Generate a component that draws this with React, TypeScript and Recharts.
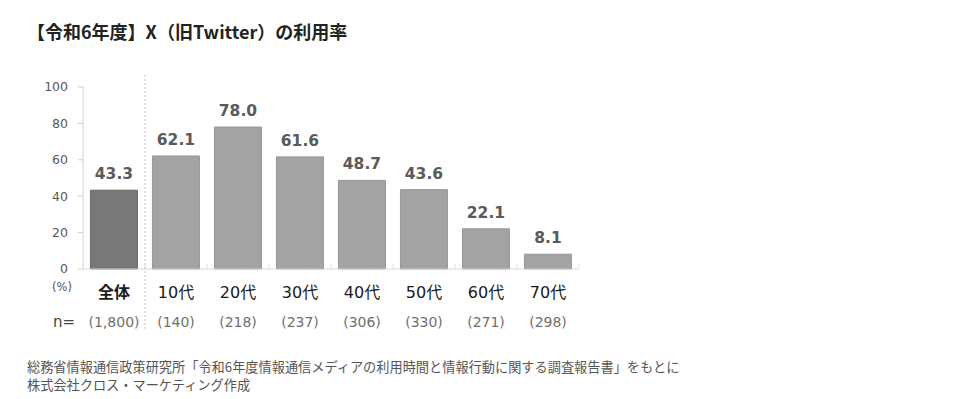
import React from 'react';
import { BarChart, Bar, XAxis, YAxis, Cell, LabelList } from 'recharts';

const categories = ['全体', '10代', '20代', '30代', '40代', '50代', '60代', '70代'];
const usageRates = [43.3, 62.1, 78.0, 61.6, 48.7, 43.6, 22.1, 8.1];
const sampleSizes = ['1,800', '140', '218', '237', '306', '330', '271', '298'];
const yTicks = [0, 20, 40, 60, 80, 100];

const data = categories.map((name, i) => ({ name, value: usageRates[i], n: sampleSizes[i] }));

const NUM_FONT = "'DejaVu Sans', 'Noto Sans CJK JP', sans-serif";
const JP_FONT = "'Noto Sans CJK JP', 'DejaVu Sans', sans-serif";

const CategoryTick = (props: any) => {
  const { x, y, payload, index } = props;
  const half = payload && typeof payload.offset === 'number' && payload.offset > 0 ? payload.offset : 31;
  const isTotal = index === 0;
  return (
    <g>
      <line x1={x + half} x2={x + half} y1={y - 5} y2={y} stroke="#e0e0e0" strokeWidth={1} />
      {isTotal && (
        <line x1={x + half} x2={x + half} y1={y - 194} y2={y + 62} stroke="#c8c8c8" strokeWidth={1} strokeDasharray="2 2" />
      )}
      <text
        x={x}
        y={y + 29}
        textAnchor="middle"
        fontSize={16}
        fontWeight={isTotal ? 700 : 400}
        fill="#1a1a1a"
        fontFamily={NUM_FONT}
      >
        {payload.value}
      </text>
      <text x={x} y={y + 58} textAnchor="middle" fontSize={14} fill="#707070" fontFamily={NUM_FONT}>
        ({data[index] ? data[index].n : ''})
      </text>
    </g>
  );
};

export default function App() {
  return (
    <div style={{ position: 'absolute', left: 0, top: 0, width: 960, height: 399, background: '#fff' }}>
      <div
        style={{
          position: 'absolute',
          left: 27,
          top: 19,
          fontSize: 18,
          fontWeight: 700,
          color: '#222',
          fontFamily: JP_FONT,
          lineHeight: '24px',
          whiteSpace: 'nowrap',
        }}
      >
        【令和6年度】X（旧Twitter）の利用率
      </div>
      <BarChart
        width={960}
        height={399}
        data={data}
        margin={{ top: 87, right: 381, bottom: 90, left: 0 }}
        barCategoryGap="12%"
      >
        <YAxis
          width={83}
          domain={[0, 100]}
          ticks={yTicks}
          interval={0}
          axisLine={{ stroke: '#d0d0d0' }}
          tickLine={{ stroke: '#d0d0d0' }}
          tickSize={5}
          tickMargin={10}
          tick={{ fontSize: 12.5, fill: '#595959', fontFamily: NUM_FONT }}
        />
        <XAxis
          dataKey="name"
          interval={0}
          axisLine={{ stroke: '#d9d9d9' }}
          tickLine={false}
          tickSize={0}
          tickMargin={0}
          height={40}
          tick={<CategoryTick />}
        />
        <Bar dataKey="value" isAnimationActive={false}>
          {data.map((d, i) => (
            <Cell
              key={d.name}
              fill={i === 0 ? '#787878' : '#a3a3a3'}
              stroke={i === 0 ? '#666' : '#969696'}
              strokeWidth={1}
            />
          ))}
          <LabelList
            dataKey="value"
            position="top"
            offset={11}
            formatter={(v: any) => Number(v).toFixed(1)}
            style={{ fontSize: 15.5, fontWeight: 700, fill: '#5a5a5a', fontFamily: NUM_FONT }}
          />
        </Bar>
      </BarChart>
      <div style={{ position: 'absolute', left: 52, top: 279, fontSize: 11.5, color: '#555', fontFamily: NUM_FONT, lineHeight: '16px' }}>
        (%)
      </div>
      <div style={{ position: 'absolute', left: 53, top: 313, fontSize: 15, color: '#444', fontFamily: NUM_FONT, lineHeight: '18px' }}>
        n=
      </div>
      <div
        style={{
          position: 'absolute',
          left: 27,
          top: 358,
          fontSize: 13.2,
          color: '#555',
          fontFamily: JP_FONT,
          lineHeight: '17px',
          whiteSpace: 'nowrap',
        }}
      >
        総務省情報通信政策研究所「令和6年度情報通信メディアの利用時間と情報行動に関する調査報告書」をもとに
      </div>
      <div
        style={{
          position: 'absolute',
          left: 27,
          top: 376,
          fontSize: 13.2,
          color: '#555',
          fontFamily: JP_FONT,
          lineHeight: '17px',
          whiteSpace: 'nowrap',
        }}
      >
        株式会社クロス・マーケティング作成
      </div>
    </div>
  );
}
